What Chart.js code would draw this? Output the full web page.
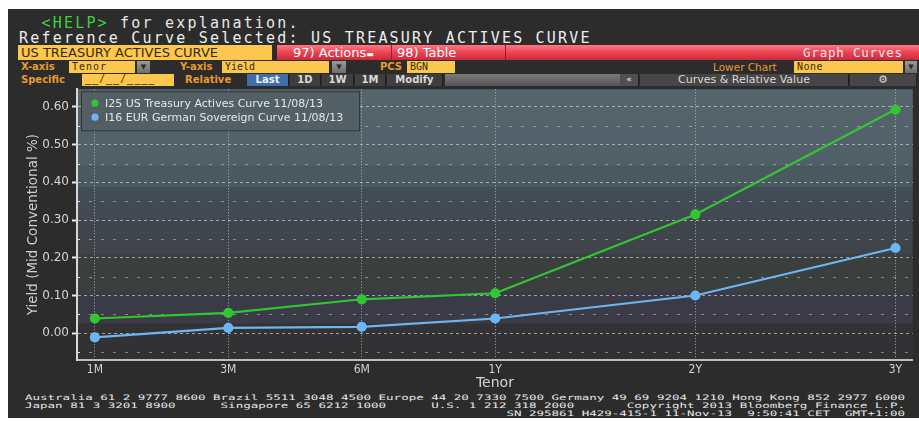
<!DOCTYPE html>
<html>
<head>
<meta charset="utf-8">
<script src="https://cdn.jsdelivr.net/npm/chart.js@4/dist/chart.umd.min.js"></script>
<style>
  body { margin: 0; background: #fff; width: 919px; height: 422px; overflow: hidden; position: relative; }
  .abs { position: absolute; }
  #panel { left: 8px; top: 9px; width: 911px; height: 409px; background: #2c2c2c; }
  .mono { font-family: 'DejaVu Sans Mono', monospace; white-space: pre; }
  .lbl { font-family: 'DejaVu Sans', sans-serif; font-weight: bold; font-size: 10px; color: #e89a2c; line-height: 12px; }
  .ybox { background: #fbc74c; color: #3a2c08; font-family: 'DejaVu Sans Mono', monospace; font-size: 10px; line-height: 12px; padding-left: 3px; box-sizing: border-box; }
  .dd { background: linear-gradient(#9a9a9a, #6e6e6e); color: #2a2a2a; font-size: 7px; text-align: center; line-height: 12px; font-family: 'DejaVu Sans', sans-serif; }
  .btn { background: #3e3e3e; color: #d8d8d8; font-family: 'DejaVu Sans', sans-serif; font-weight: bold; font-size: 10px; line-height: 12px; text-align: center; border-right: 1px solid #1e1e1e; box-sizing: border-box; }
  #chartWrap { left: 8px; top: 83px; width: 911px; height: 309px; }
  .foot { left: 25px; font-size: 7.5px; line-height: 7.5px; color: #e8e8e8; transform: scaleX(1.666); transform-origin: left top; }
</style>
</head>
<body>
<div id="panel" class="abs"></div>

<div class="abs mono" style="left:19px;top:14px;font-size:15px;letter-spacing:2.2px;color:#e8e8e8;line-height:18px;">  <span style="color:#3fcf3f">&lt;HELP&gt;</span> for explanation.</div>
<div class="abs mono" style="left:19px;top:29px;font-size:15px;letter-spacing:2.2px;color:#eeeeee;line-height:18px;">Reference Curve Selected: US TREASURY ACTIVES CURVE</div>

<div class="abs" style="left:18px;top:45px;width:254px;height:15px;background:#fbc74c;color:#3a2a06;font-family:'DejaVu Sans',sans-serif;font-size:13px;line-height:15px;padding-left:3px;box-sizing:border-box;">US TREASURY ACTIVES CURVE</div>
<div class="abs" style="left:277px;top:45px;width:642px;height:15px;background:linear-gradient(#ff7680,#e8404f 55%,#c92b3c);"></div>
<div class="abs" style="left:391px;top:45px;width:1px;height:15px;background:#9a1c2a;"></div>
<div class="abs" style="left:505px;top:45px;width:1px;height:15px;background:#9a1c2a;"></div>
<div class="abs" style="left:293px;top:45px;color:#fff;font-family:'DejaVu Sans',sans-serif;font-size:13px;line-height:15px;">97) Actions<span style="font-size:8px;">▬</span></div>
<div class="abs" style="left:397px;top:45px;color:#fff;font-family:'DejaVu Sans',sans-serif;font-size:13px;line-height:15px;">98) Table</div>
<div class="abs" style="left:803px;top:45px;color:#f8e8e8;font-family:'DejaVu Sans Mono',monospace;font-size:12.5px;letter-spacing:0.8px;line-height:15px;">Graph Curves</div>

<div class="abs lbl" style="left:21px;top:61px;">X-axis</div>
<div class="abs ybox" style="left:69px;top:61px;width:66px;height:12px;letter-spacing:1px;">Tenor</div>
<div class="abs dd" style="left:137px;top:61px;width:13px;height:12px;">▼</div>
<div class="abs lbl" style="left:180px;top:61px;">Y-axis</div>
<div class="abs ybox" style="left:222px;top:61px;width:107px;height:12px;">Yield</div>
<div class="abs dd" style="left:332px;top:61px;width:14px;height:12px;">▼</div>
<div class="abs lbl" style="left:380px;top:61px;">PCS</div>
<div class="abs ybox" style="left:407px;top:61px;width:48px;height:12px;">BGN</div>
<div class="abs lbl" style="left:713px;top:61px;font-weight:normal;font-size:10.5px;">Lower Chart</div>
<div class="abs ybox" style="left:794px;top:61px;width:109px;height:12px;letter-spacing:0.5px;">None</div>
<div class="abs dd" style="left:905px;top:61px;width:12px;height:12px;">▼</div>

<div class="abs lbl" style="left:21px;top:74px;">Specific</div>
<div class="abs ybox" style="left:82px;top:74px;width:92px;height:12px;color:#6a4a08;letter-spacing:1px;line-height:10px;font-weight:bold;">__/__/____</div>
<div class="abs lbl" style="left:185px;top:74px;">Relative</div>
<div class="abs btn" style="left:247px;top:74px;width:42px;height:12px;background:#3f6fa6;color:#f2f2f2;">Last</div>
<div class="abs btn" style="left:290px;top:74px;width:31px;height:12px;">1D</div>
<div class="abs btn" style="left:322px;top:74px;width:32px;height:12px;">1W</div>
<div class="abs btn" style="left:355px;top:74px;width:31px;height:12px;">1M</div>
<div class="abs btn" style="left:387px;top:74px;width:56px;height:12px;">Modify</div>
<div class="abs" style="left:445px;top:74px;width:175px;height:12px;background:linear-gradient(#7a7a7a,#555);"></div>
<div class="abs btn" style="left:620px;top:74px;width:19px;height:12px;background:#505050;font-size:8px;">«</div>
<div class="abs btn" style="left:640px;top:74px;width:209px;height:12px;background:#464646;font-weight:normal;font-size:11px;">Curves &amp; Relative Value</div>
<div class="abs btn" style="left:850px;top:74px;width:67px;height:12px;background:#464646;font-size:11px;">⚙</div>

<div id="chartWrap" class="abs"><canvas id="chart" width="911" height="309"></canvas></div>

<div class="abs mono foot" style="top:393.5px;">Australia 61 2 9777 8600 Brazil 5511 3048 4500 Europe 44 20 7330 7500 Germany 49 69 9204 1210 Hong Kong 852 2977 6000</div>
<div class="abs mono foot" style="top:401.5px;">Japan 81 3 3201 8900      Singapore 65 6212 1000      U.S. 1 212 318 2000       Copyright 2013 Bloomberg Finance L.P.</div>
<div class="abs mono foot" style="top:409.5px;">                                                                SN 295861 H429-415-1 11-Nov-13  9:50:41 CET  GMT+1:00</div>

<script>
// tenors along the curve, spaced the way the terminal draws them
const tenorLabels = ['1M', '3M', '6M', '1Y', '2Y', '3Y'];
const tenorAxisPos = [0, 1, 2, 3, 4.5, 6];

// yields, mid conventional %
const usYield = [0.039, 0.054, 0.090, 0.106, 0.315, 0.593];
const eurYield = [-0.011, 0.014, 0.017, 0.039, 0.100, 0.226];

const seriesNames = ['I25 US Treasury Actives Curve 11/08/13', 'I16 EUR German Sovereign Curve 11/08/13'];
const seriesColors = ['#33c633', '#6cb6f3'];

const yMajorTicks = [0, 0.1, 0.2, 0.3, 0.4, 0.5, 0.6];
const yMinorTicks = [-0.05, 0.05, 0.15, 0.25, 0.35, 0.45, 0.55];

const toPoints = (vals) => vals.map((v, i) => ({ x: tenorAxisPos[i], y: v }));

// stepped background bands inside the plot
const bandPlugin = {
    id: 'bands',
    beforeDraw(chart) {
        const { ctx, chartArea: a } = chart;
        const g = ctx.createLinearGradient(0, a.top, 0, a.bottom);
        const stops = [
            [0, '#56646d'], [0.28, '#515f68'], [0.286, '#4a5860'], [0.36, '#4a5860'],
            [0.362, '#434d57'], [0.487, '#414952'], [0.49, '#3e454b'], [0.608, '#3e444a'],
            [0.61, '#3a3f3e'], [0.744, '#3b403f'], [0.746, '#3a3b47'], [0.864, '#3a3b46'],
            [0.866, '#333335'], [1, '#313133']
        ];
        stops.forEach(s => g.addColorStop(s[0], s[1]));
        ctx.save();
        ctx.fillStyle = g;
        ctx.fillRect(a.left, a.top, a.right - a.left, a.bottom - a.top);
        ctx.restore();
    },
    beforeDatasetsDraw(chart) {
        // sparse minor grid lines between the labelled ones
        const { ctx, chartArea: a, scales: { y } } = chart;
        ctx.save();
        ctx.strokeStyle = 'rgba(200,200,200,0.55)';
        ctx.lineWidth = 1;
        ctx.setLineDash([3, 9]);
        yMinorTicks.forEach(v => {
            const py = Math.round(y.getPixelForValue(v)) + 0.5;
            ctx.beginPath();
            ctx.moveTo(a.left, py);
            ctx.lineTo(a.right, py);
            ctx.stroke();
        });
        ctx.setLineDash([]);
        ctx.strokeStyle = '#dddddd';
        yMinorTicks.forEach(v => {
            const py = Math.round(y.getPixelForValue(v)) + 0.5;
            ctx.beginPath();
            ctx.moveTo(a.left, py);
            ctx.lineTo(a.left + 3, py);
            ctx.stroke();
        });
        ctx.restore();
    },
    afterDraw(chart) {
        // legend box in the top-left corner of the plot
        const { ctx, chartArea: a } = chart;
        const bx = a.left + 4, by = a.top + 2, bw = 279, bh = 40;
        ctx.save();
        ctx.fillStyle = 'rgba(82,96,102,0.92)';
        ctx.fillRect(bx, by, bw, bh);
        ctx.strokeStyle = '#30383a';
        ctx.lineWidth = 1;
        ctx.strokeRect(bx + 0.5, by + 0.5, bw - 1, bh - 1);
        ctx.font = "11px 'DejaVu Sans'";
        ctx.textBaseline = 'middle';
        seriesNames.forEach((name, i) => {
            const cy = by + 12 + i * 14;
            ctx.fillStyle = seriesColors[i];
            ctx.beginPath();
            ctx.arc(bx + 14, cy, 3.6, 0, Math.PI * 2);
            ctx.fill();
            ctx.fillStyle = '#e6e6e6';
            ctx.fillText(name, bx + 24, cy + 1);
        });
        ctx.restore();
    }
};

const ctx = document.getElementById('chart').getContext('2d');
new Chart(ctx, {
    type: 'line',
    data: {
        datasets: [usYield, eurYield].map((vals, i) => ({
            label: seriesNames[i],
            data: toPoints(vals),
            borderColor: seriesColors[i],
            backgroundColor: seriesColors[i],
            borderWidth: 2.2,
            pointRadius: 4,
            pointHoverRadius: 4,
            tension: 0
        }))
    },
    options: {
        responsive: false,
        animation: false,
        devicePixelRatio: 1,
        layout: { padding: { top: 0, right: 2, left: 0, bottom: 0 } },
        plugins: {
            legend: { display: false },
            tooltip: { enabled: false }
        },
        scales: {
            x: {
                type: 'linear',
                min: -0.134,
                max: 6.13,
                afterBuildTicks: (scale) => { scale.ticks = tenorAxisPos.map(v => ({ value: v })); },
                afterFit: (scale) => { scale.height = 32; scale.paddingLeft = 0; scale.paddingRight = 0; },
                grid: { color: 'rgba(205,205,205,0.75)', lineWidth: 1, drawTicks: false },
                border: { display: true, color: '#bdbdbd', width: 2, dash: [1, 2] },
                ticks: {
                    color: '#d4d4d4',
                    padding: 3,
                    maxRotation: 0,
                    autoSkip: false,
                    font: { family: "'DejaVu Sans Condensed', 'DejaVu Sans'", size: 12 },
                    callback: (v) => tenorLabels[tenorAxisPos.indexOf(v)] ?? ''
                },
                title: {
                    display: true, text: 'Tenor', color: '#d4d4d4', padding: { top: 0, bottom: 0 },
                    font: { family: "'DejaVu Sans'", size: 14 }
                }
            },
            y: {
                min: -0.071,
                max: 0.647,
                afterBuildTicks: (scale) => { scale.ticks = yMajorTicks.map(v => ({ value: v })); },
                afterFit: (scale) => { scale.width = 69; scale.paddingTop = 0; scale.paddingBottom = 0; },
                grid: { color: 'rgba(205,205,205,0.7)', lineWidth: 1, tickLength: 5, tickColor: '#e8e8e8', tickWidth: 2 },
                border: { display: true, color: '#d8d8d8', width: 2, dash: [3, 3] },
                ticks: {
                    color: '#d4d4d4',
                    padding: 3,
                    font: { family: "'DejaVu Sans'", size: 12 },
                    callback: (v) => v.toFixed(2)
                },
                title: {
                    display: true, text: 'Yield (Mid Conventional %)', color: '#cfcfcf', padding: { top: 17, bottom: 0 },
                    font: { family: "'DejaVu Sans'", size: 13.5 }
                }
            }
        }
    },
    plugins: [bandPlugin]
});
</script>
</body>
</html>
